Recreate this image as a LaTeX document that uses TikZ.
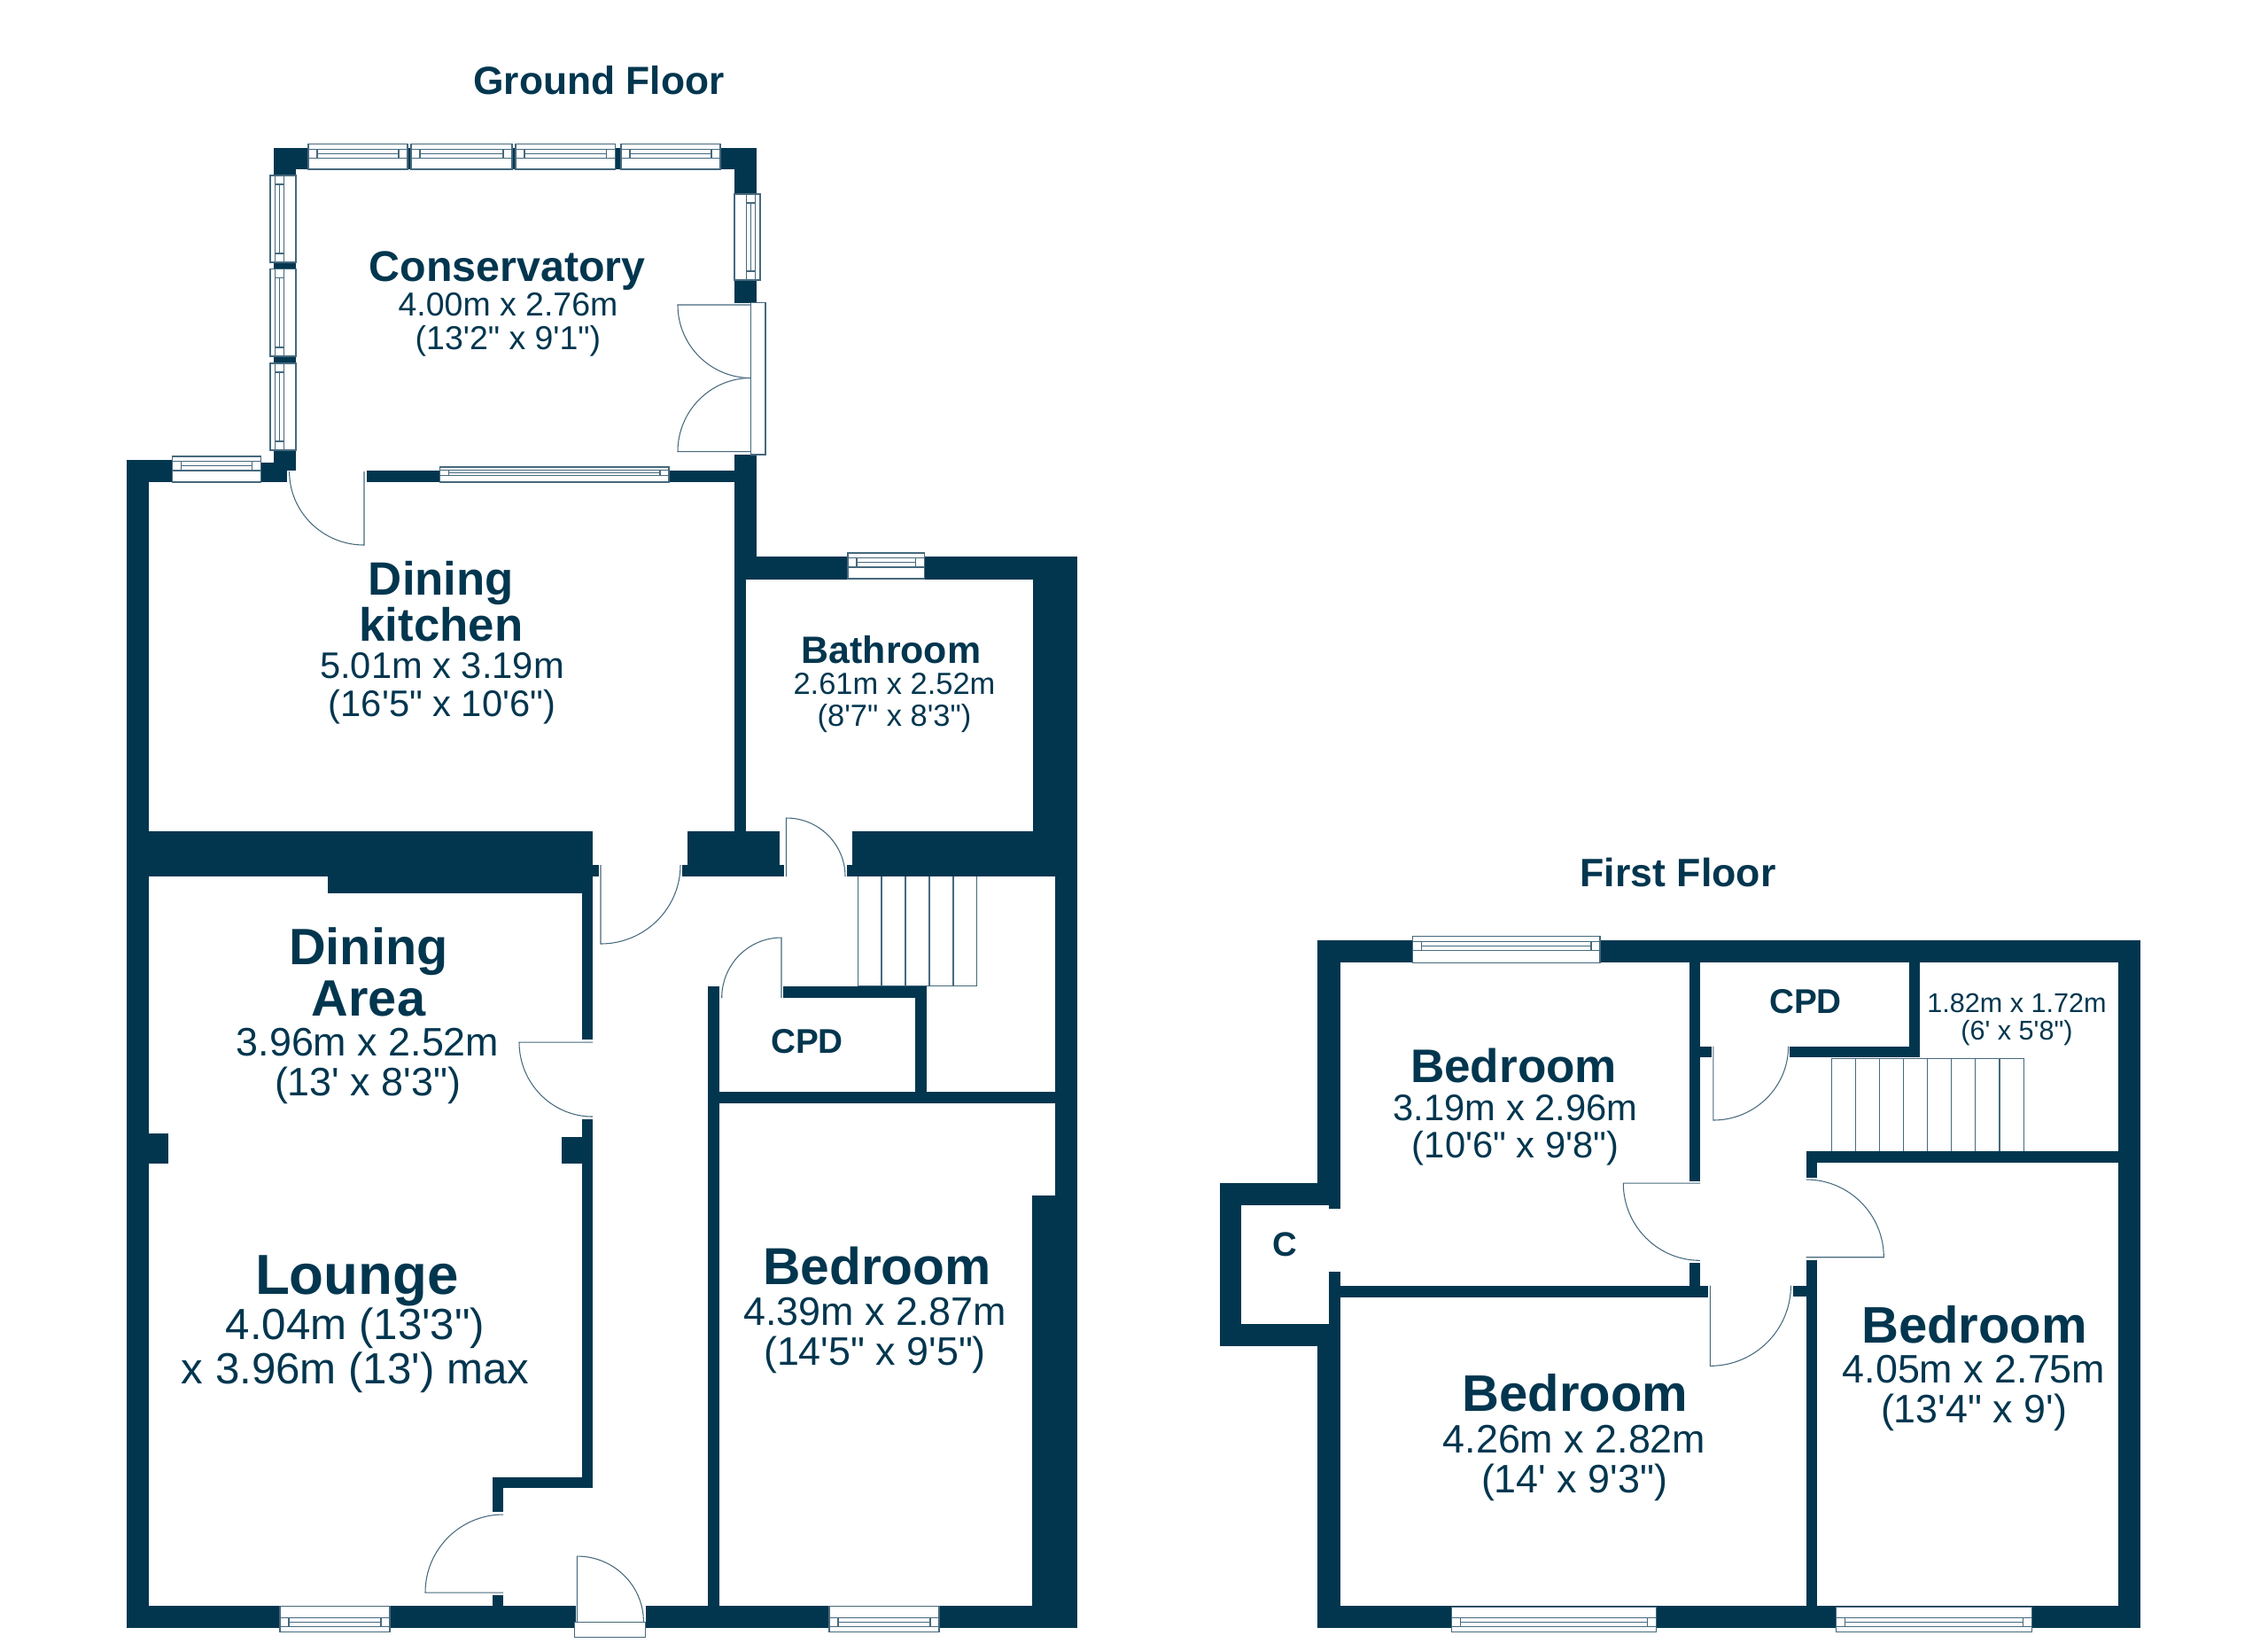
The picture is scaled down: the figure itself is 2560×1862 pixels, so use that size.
\documentclass[tikz,border=0pt]{standalone}
\usepackage{xcolor}
\usepackage{fontspec}
\newfontfamily\planfont{Liberation Sans}
\usepackage{tikz}
\usetikzlibrary{calc}
\definecolor{wallblue}{RGB}{2,54,79}
\definecolor{thinblue}{RGB}{70,105,125}

\tikzset{
  wall/.style={fill=wallblue},
  thinline/.style={draw=thinblue,line width=0.3pt},
  roomname/.style 2 args={anchor=base,inner sep=0pt,align=center,text=wallblue,font=\planfont\bfseries\fontsize{#1}{#2}\selectfont},
  roomdim/.style 2 args={anchor=base,inner sep=0pt,align=center,text=wallblue,font=\planfont\fontsize{#1}{#2}\selectfont}
}

% window lying along x: x from, x to, outer y, inner y
\newcommand{\windowh}[4]{
  \pgfmathsetmacro\wina{#3+0.2*(#4-#3)}
  \pgfmathsetmacro\winb{#3+0.37*(#4-#3)}
  \pgfmathsetmacro\winc{#3+0.55*(#4-#3)}
  \draw[thinline,fill=white] (#1,#3) rectangle (#2,#4);
  \draw[thinline] (#1,\wina) -- (#2,\wina) (#1,\winc) -- (#2,\winc)
    (#1+10,\wina) -- (#1+10,\winc) (#2-10,\wina) -- (#2-10,\winc)
    (#1+10,\winb) -- (#2-10,\winb);
}
% window lying along y: y from, y to, outer x, inner x
\newcommand{\windowv}[4]{
  \pgfmathsetmacro\wina{#3+0.2*(#4-#3)}
  \pgfmathsetmacro\winb{#3+0.37*(#4-#3)}
  \pgfmathsetmacro\winc{#3+0.55*(#4-#3)}
  \draw[thinline,fill=white] (#3,#1) rectangle (#4,#2);
  \draw[thinline] (\wina,#1) -- (\wina,#2) (\winc,#1) -- (\winc,#2)
    (\wina,#1+10) -- (\winc,#1+10) (\wina,#2-10) -- (\winc,#2-10)
    (\winb,#1+10) -- (\winb,#2-10);
}
% door leaf: hinge, tip of the leaf, end of the swing
\newcommand{\doorleaf}[6]{
  \draw[thinline] (#1,#2) -- (#3,#4)
    .. controls ($(#3,#4)+0.552*(#5,#6)-0.552*(#1,#2)$) and ($(#5,#6)+0.552*(#3,#4)-0.552*(#1,#2)$) .. (#5,#6);
}

\begin{document}
\begin{tikzpicture}[x=0.01cm,y=-0.01cm]
    \useasboundingbox (0,0) rectangle (2560,1862);

    % Ground floor walls
    \foreach \xa/\ya/\xb/\yb in {
        309/166.5/348/191, 309/191/334/198, 813/166.5/854/191, 829/191/854/219,
        460/166.5/464/191, 578/166.5/582/191, 694.5/166.5/701/191,
        309/296/334/303.6, 309/402/334/410, 309/508/334/531,
        294.5/522/309/544, 309/531/324/544,
        829/316/854/341.6, 829/513/854/628, 829/628/841.5/938,
        829/628/1216/654, 1165.6/628/1216/938,
        414/531/496.5/544, 755/531/829/544,
        143/519/194.5/544, 143/519/168/1837,
        168/938/669/989, 669/976/676/989, 370/989/669/1008,
        657/1008/669/1173, 657/1263/669/1667, 556/1667/669/1679,
        556/1679/568/1706, 556/1800/568/1812,
        776/938/880/976, 770/976/885/989, 962/938/1216/989, 956/976/962/989,
        1190.6/989/1216/1837, 1165/1349/1216/1837,
        143/1812/650/1837, 728.6/1812/1216/1837,
        798.6/1113/812/1812, 884.4/1113/1046/1126, 1033/1126/1046/1232,
        812/1232/1190.6/1245,
        168/1279/190/1313, 634/1283/657/1313} {
        \fill[wall] (\xa,\ya) rectangle (\xb,\yb);
    }

    % First floor walls
    \foreach \xa/\ya/\xb/\yb in {
        1487/1060.7/2416/1086, 1487/1060.7/1512.5/1360, 1500/1360/1512.5/1364.3,
        1377/1334.7/1512.5/1360, 1377/1334.7/1401.3/1519.3,
        1377/1494.3/1512.5/1519.3, 1500/1435/1512.5/1494.3,
        1487/1519.3/1512.5/1837.3, 1487/1812.3/2416/1837.3, 2391/1060.7/2416/1837.3,
        1906.7/1086/1919/1332.7, 1919/1180.7/1932/1193,
        2155/1086/2166.7/1193, 2020/1180.7/2166.7/1193,
        2038.7/1298.7/2391/1311.7, 2038.7/1311.7/2051/1328.7, 2038.7/1421.7/2051/1812.3,
        1906.7/1425/1919/1450.7, 1512.5/1450.7/1928.2/1464, 2023.5/1450.7/2038.7/1463.3} {
        \fill[wall] (\xa,\ya) rectangle (\xb,\yb);
    }

    % Windows
    \foreach \xa/\xb/\yo/\yi in {
        348/460/162.5/191, 464/578/162.5/191, 582/694.5/162.5/191, 701/813/162.5/191,
        194.5/294.5/515/544, 496.5/755/527/544, 957/1043.5/624/653,
        316/440/1841/1812, 936/1060/1841/1812,
        1594.5/1806/1056.7/1086, 1638.3/1869.8/1841.3/1813, 2072.8/2293.2/1841.3/1813} {
        \windowh{\xa}{\xb}{\yo}{\yi}
    }
    \foreach \ya/\yb/\xo/\xi in {
        198/296/305/334, 303.6/402/305/334, 410/508/305/334, 219/316/858/829} {
        \windowv{\ya}{\yb}{\xo}{\xi}
    }

    % Door frames
    \draw[thinline,fill=white] (847.6,341.6) rectangle (864,513);
    \draw[thinline,fill=white] (648.6,1830) rectangle (728.6,1847);

    % Door leaves
    \doorleaf{411}{532}{411}{615}{326.6}{532}
    \doorleaf{847.6}{344}{765}{344}{847.6}{426.5}
    \doorleaf{847.6}{509.6}{765}{509.6}{847.6}{426.5}
    \doorleaf{678}{976}{678}{1065}{768}{976}
    \doorleaf{887.5}{989}{887.5}{923}{954}{989}
    \doorleaf{882}{1126}{882}{1058}{814.7}{1126}
    \doorleaf{669}{1176}{586}{1176}{669}{1260}
    \doorleaf{568}{1797}{480}{1797}{568}{1709}
    \doorleaf{651.4}{1830}{651.4}{1756}{726.4}{1830}
    \doorleaf{1919}{1335}{1832.3}{1335}{1919}{1422.3}
    \doorleaf{1933.8}{1180.7}{1933.8}{1264}{2018.6}{1180.7}
    \doorleaf{2038.7}{1418.7}{2126.3}{1418.7}{2038.7}{1331}
    \doorleaf{1930.3}{1450.7}{1930.3}{1541.3}{2021.4}{1450.7}

    % Stairs
    \foreach \x in {968.4,995,1022,1049,1076,1102.5} {
        \draw[thinline] (\x,989) -- (\x,1112.7);
    }
    \draw[thinline] (968.4,1112.7) -- (1102.5,1112.7);
    \foreach \x in {2067.3,2094.4,2121.5,2148.6,2175.7,2202.8,2229.9,2257,2284.2} {
        \draw[thinline] (\x,1194) -- (\x,1298.7);
    }
    \draw[thinline] (2067.3,1194) -- (2284.2,1194);

    % Floor titles
    \node[roomname={12.6}{13}] (groundtitle) at (676,106) {Ground Floor};
    \node[roomname={12.7}{13}] (firsttitle) at (1894,1000) {First Floor};

    % Ground floor rooms
    \node[roomname={13.75}{14}] (conservatory) at (572.6,317.5) {Conservatory};
    \node[roomdim={10.65}{10.8}] (conservatorydim) at (573.5,394) {4.00m x 2.76m\\(13'2" x 9'1")};
    \node[roomname={15}{14.8}] (kitchen) at (498,723.5) {Dining\\kitchen};
    \node[roomdim={11.85}{12.1}] (kitchendim) at (499,808.5) {5.01m x 3.19m\\(16'5" x 10'6")};
    \node[roomname={12.2}{13}] (bathroom) at (1006,748.5) {Bathroom};
    \node[roomdim={9.8}{10}] (bathroomdim) at (1009.5,819) {2.61m x 2.52m\\(8'7" x 8'3")};
    \node[roomname={16.4}{16.7}] (diningarea) at (416,1146.7) {Dining\\Area};
    \node[roomdim={12.75}{12.8}] (diningareadim) at (415,1236) {3.96m x 2.52m\\(13' x 8'3")};
    \node[roomname={18.1}{18}] (lounge) at (403,1460.7) {Lounge};
    \node[roomdim={14}{14.2}] (loungedim) at (401,1561) {4.04m (13'3")\\x 3.96m (13') max};
    \node[roomname={16.7}{17}] (bedroomg) at (990,1449) {Bedroom};
    \node[roomdim={12.75}{12.6}] (bedroomgdim) at (987.5,1540) {4.39m x 2.87m\\(14'5" x 9'5")};
    \node[roomname={11}{11}] (cpdg) at (911,1188) {CPD};

    % First floor rooms
    \node[roomname={15.1}{15}] (bedrooma) at (1708.6,1221.7) {Bedroom};
    \node[roomdim={11.85}{11.9}] (bedroomadim) at (1710.5,1306.5) {3.19m x 2.96m\\(10'6" x 9'8")};
    \node[roomname={11}{11}] (cpdf) at (2038,1143) {CPD};
    \node[roomdim={8.7}{8.6}] (landingdim) at (2276.5,1173) {1.82m x 1.72m\\(6' x 5'8")};
    \node[roomname={10.9}{11}] (closet) at (1450,1417.7) {C};
    \node[roomname={16.5}{17}] (bedroomb) at (2228.5,1515) {Bedroom};
    \node[roomdim={12.75}{12.6}] (bedroombdim) at (2228,1605) {4.05m x 2.75m\\(13'4" x 9')};
    \node[roomname={16.5}{17}] (bedroomc) at (1778,1592.7) {Bedroom};
    \node[roomdim={12.75}{12.6}] (bedroomcdim) at (1777,1684) {4.26m x 2.82m\\(14' x 9'3")};
\end{tikzpicture}
\end{document}
